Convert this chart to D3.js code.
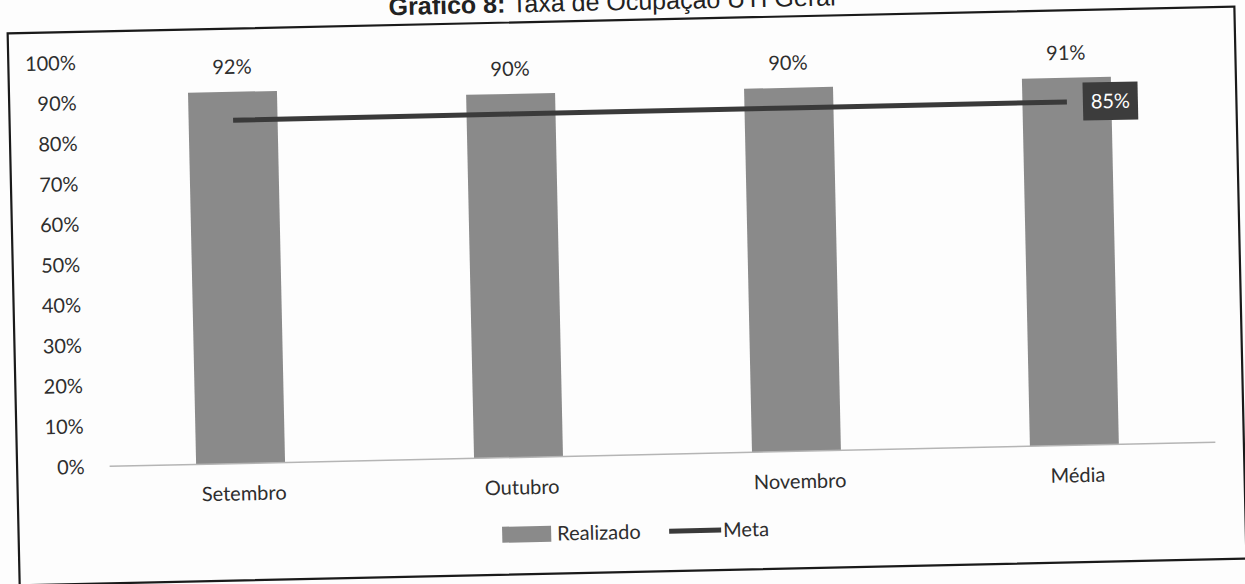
<!DOCTYPE html>
<html>
<head>
<meta charset="utf-8">
<script src="https://cdn.jsdelivr.net/npm/d3@7"></script>
<style>
  body { margin: 0; background: #fdfdfd; }
  svg { display: block; }
  text { font-family: Lato, "Open Sans", sans-serif; fill: #2e2e2e; }
</style>
</head>
<body>
<svg id="chart"></svg>
<script>
// data
const months = ['Setembro', 'Outubro', 'Novembro', 'Média'];
const realizado = [0.92, 0.90, 0.90, 0.91];
const meta = [0.85, 0.85, 0.85, 0.85];
const yTicks = [0, 0.1, 0.2, 0.3, 0.4, 0.5, 0.6, 0.7, 0.8, 0.9, 1.0];
const seriesNames = ['Realizado', 'Meta'];

const width = 1245, height = 584;

const svg = d3.select('#chart')
  .attr('width', width)
  .attr('height', height);

// the scanned page is slightly tilted
const page = svg.append('g')
  .attr('transform', 'rotate(-1.25, 627, 295)');

// title (its top is cut off by the scan, as in the reference)
const title = page.append('text')
  .attr('x', 395)
  .attr('y', 10)
  .style('font-family', '"Liberation Sans", Arial, sans-serif')
  .style('font-size', '25px')
  .style('fill', '#222');
title.append('tspan').style('font-weight', 'bold').text('Gráfico 8:');
title.append('tspan').text(' Taxa de Ocupação UTI Geral');

// frame
page.append('rect')
  .attr('x', 13.5)
  .attr('y', 20)
  .attr('width', 1227)
  .attr('height', 552)
  .attr('fill', 'none')
  .attr('stroke', '#1a1a1a')
  .attr('stroke-width', 2.2);

const x = d3.scaleBand()
  .domain(months)
  .range([98, 1210])
  .paddingInner(0.68)
  .paddingOuter(0.34);

const y = d3.scaleLinear()
  .domain([0, 1])
  .range([455, 51]);

// y axis (labels only)
const yAxis = page.append('g')
  .attr('transform', 'translate(81,0)')
  .call(d3.axisLeft(y).tickValues(yTicks).tickSize(0).tickPadding(0).tickFormat(d3.format('.0%')));
yAxis.select('.domain').remove();
yAxis.selectAll('text')
  .style('font-family', 'Lato, "Open Sans", sans-serif')
  .style('font-size', '20px')
  .style('fill', '#2e2e2e');

// bars
page.selectAll('.bar')
  .data(realizado)
  .enter()
  .append('rect')
  .attr('class', 'bar')
  .attr('x', (d, i) => x(months[i]))
  .attr('y', d => y(d))
  .attr('width', x.bandwidth())
  .attr('height', d => y(0) - y(d))
  .attr('fill', '#8a8a8a');

// baseline
page.append('line')
  .attr('x1', 106)
  .attr('x2', 1212)
  .attr('y1', y(0))
  .attr('y2', y(0))
  .attr('stroke', '#b5b5b5')
  .attr('stroke-width', 1.5);

// bar value labels
page.selectAll('.val')
  .data(realizado)
  .enter()
  .append('text')
  .attr('class', 'val')
  .attr('x', (d, i) => x(months[i]) + x.bandwidth() / 2)
  .attr('y', d => y(d) - 18)
  .attr('text-anchor', 'middle')
  .style('font-size', '20px')
  .text(d => d3.format('.0%')(d));

// category labels
page.selectAll('.cat')
  .data(months)
  .enter()
  .append('text')
  .attr('class', 'cat')
  .attr('x', d => x(d) + x.bandwidth() / 2 + 3)
  .attr('y', y(0) + 37)
  .attr('text-anchor', 'middle')
  .style('font-size', '20px')
  .text(d => d);

// meta line
const line = d3.line()
  .x((d, i) => x(months[i]) + x.bandwidth() / 2)
  .y(d => y(d));

page.append('path')
  .datum(meta)
  .attr('d', line)
  .attr('fill', 'none')
  .attr('stroke', '#3a3a3a')
  .attr('stroke-width', 5);

// label for last meta point
const lastI = meta.length - 1;
const lx = x(months[lastI]) + x.bandwidth() / 2 + 16;
const ly = y(meta[lastI]);
page.append('rect')
  .attr('x', lx)
  .attr('y', ly - 19)
  .attr('width', 55)
  .attr('height', 38)
  .attr('fill', '#3c3c3c');
page.append('text')
  .attr('x', lx + 27.5)
  .attr('y', ly + 7)
  .attr('text-anchor', 'middle')
  .style('font-size', '20px')
  .style('fill', '#fff')
  .text(d3.format('.0%')(meta[lastI]));

// legend
const legend = page.append('g').attr('transform', 'translate(497,532)');
legend.append('rect')
  .attr('x', 0).attr('y', -8)
  .attr('width', 49).attr('height', 16)
  .attr('fill', '#8a8a8a');
legend.append('text')
  .attr('x', 55).attr('y', 7)
  .style('font-size', '20px')
  .text(seriesNames[0]);
legend.append('line')
  .attr('x1', 167).attr('x2', 219)
  .attr('y1', 0).attr('y2', 0)
  .attr('stroke', '#3a3a3a')
  .attr('stroke-width', 5);
legend.append('text')
  .attr('x', 221).attr('y', 7)
  .style('font-size', '20px')
  .text(seriesNames[1]);
</script>
</body>
</html>
